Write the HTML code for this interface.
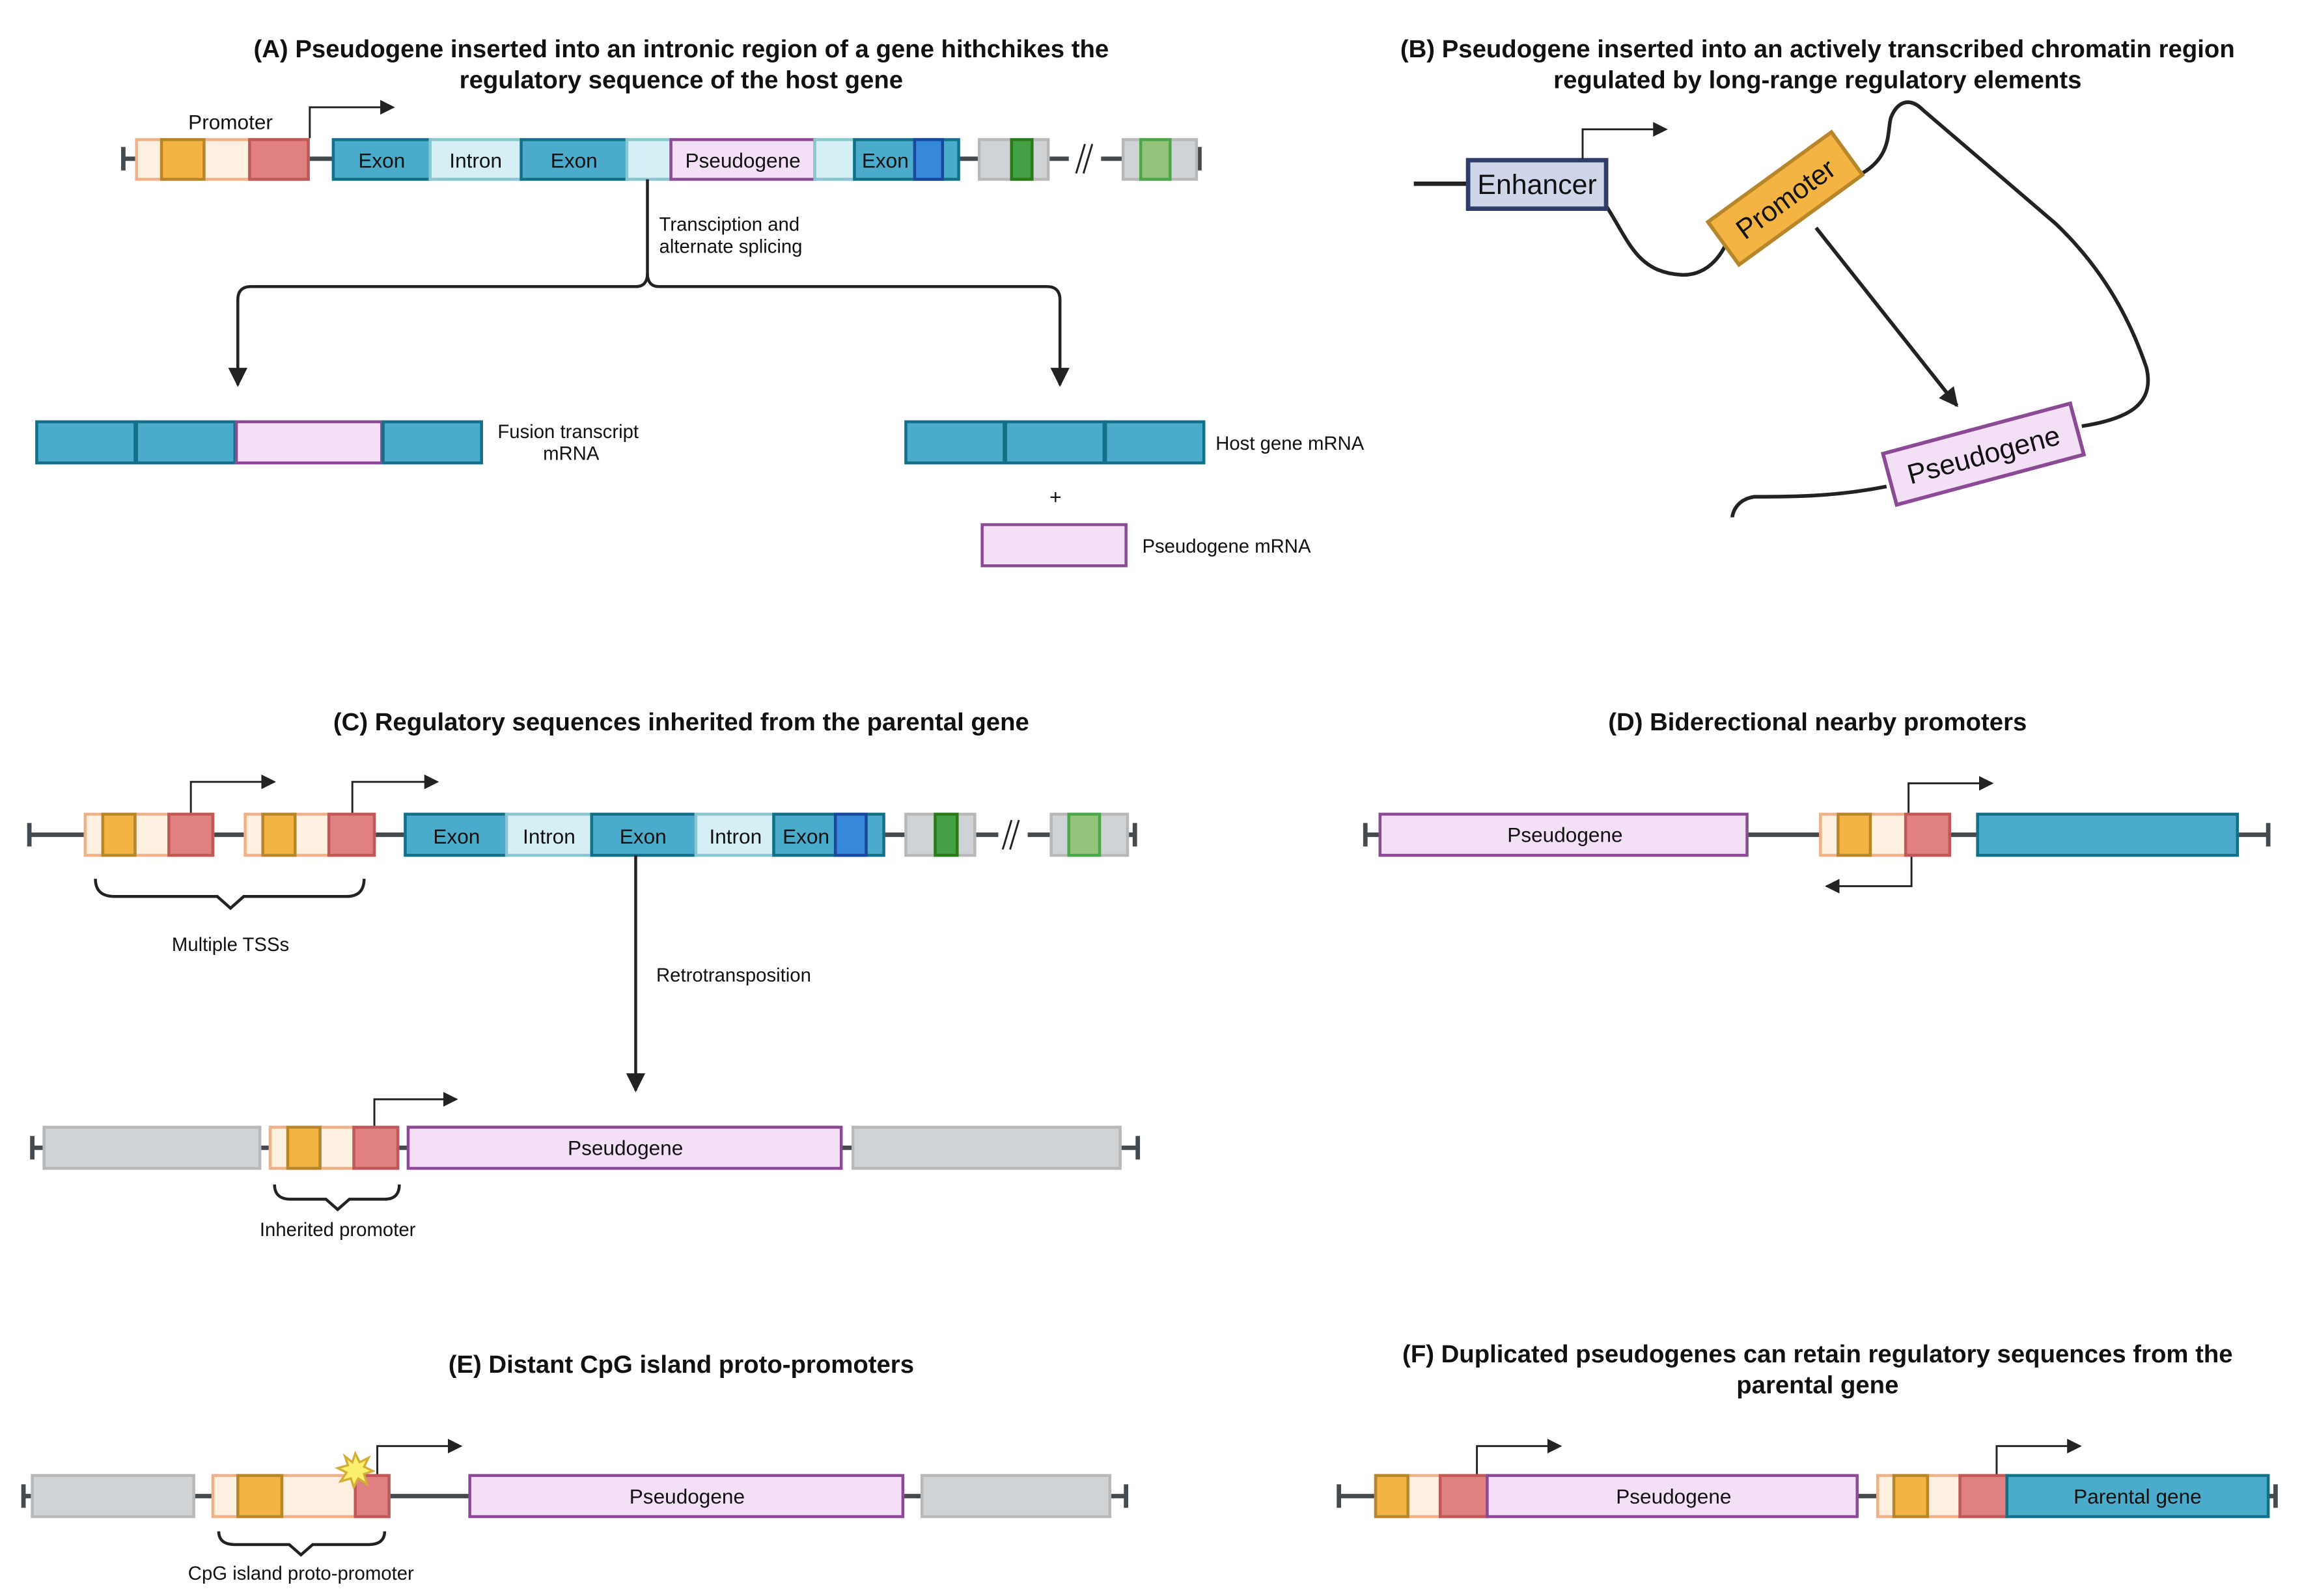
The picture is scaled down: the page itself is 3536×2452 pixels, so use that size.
<!DOCTYPE html>
<html><head><meta charset="utf-8"><style>html,body{margin:0;padding:0;background:#fff}svg{display:block}</style></head>
<body>
<svg width="3536" height="2452" viewBox="0 0 1568 1086" preserveAspectRatio="none" xmlns="http://www.w3.org/2000/svg" font-family="Liberation Sans, sans-serif">
<defs>
<marker id="ah" viewBox="0 0 10 10" refX="9" refY="5" markerWidth="10" markerHeight="10" markerUnits="userSpaceOnUse" orient="auto"><path d="M0,0 L10,5 L0,10 z" fill="#222"/></marker>
<marker id="ah2" viewBox="0 0 10 10" refX="9" refY="5" markerWidth="13" markerHeight="13" markerUnits="userSpaceOnUse" orient="auto"><path d="M0,0 L10,5 L0,10 z" fill="#222"/></marker>
</defs>
<style>
.t{font-weight:bold;font-size:17px;text-anchor:middle;fill:#111}
.l{font-size:13px;fill:#111}
.bx{font-size:14px;fill:#111;text-anchor:middle}
.ln{stroke:#454a4e;stroke-width:3;fill:none}
.pk{fill:#fdf0e0;stroke:#f0b088;stroke-width:2}
.or{fill:#f3b443;stroke:#b8862a;stroke-width:2}
.rd{fill:#e08080;stroke:#c05858;stroke-width:2}
.ex{fill:#4aabcb;stroke:#127088;stroke-width:2}
.in{fill:#d6eff4;stroke:#8ac6d0;stroke-width:2}
.ps{fill:#f3e0f7;stroke:#8c4a96;stroke-width:2}
.bl{fill:#3688d8;stroke:#1a48a0;stroke-width:2}
.gr{fill:#d0d3d6;stroke:#b8b8b8;stroke-width:2}
.gn{fill:#44a044;stroke:#2a7a1a;stroke-width:2}
.lg{fill:#94c47c;stroke:#4aa84a;stroke-width:2}
.ar{stroke:#222;stroke-width:1.3;fill:none}
.br{stroke:#222;stroke-width:2;fill:none}
</style>

<!-- Panel A -->
<text class="t" x="464" y="39">(A) Pseudogene inserted into an intronic region of a gene hithchikes the</text>
<text class="t" x="464" y="60">regulatory sequence of the host gene</text>
<line class="ln" x1="84" y1="108" x2="817" y2="108"/>
<line class="ln" x1="84" y1="100" x2="84" y2="116"/>
<line class="ln" x1="817" y1="100" x2="817" y2="116"/>
<rect class="pk" x="93" y="95" width="117" height="27"/>
<rect class="or" x="110" y="95" width="29" height="27"/>
<rect class="rd" x="170" y="95" width="40" height="27"/>
<text class="bx" x="157" y="88">Promoter</text>
<path class="ar" d="M211,94 V73 H268" marker-end="url(#ah)"/>
<rect class="ex" x="227" y="95" width="66" height="27"/>
<rect class="in" x="293" y="95" width="62" height="27"/>
<rect class="ex" x="355" y="95" width="72" height="27"/>
<rect class="in" x="427" y="95" width="30" height="27"/>
<rect class="ps" x="457" y="95" width="98" height="27"/>
<rect class="in" x="555" y="95" width="27" height="27"/>
<rect class="ex" x="582" y="95" width="71" height="27"/>
<rect class="bl" x="623" y="95" width="19" height="27"/>
<text class="bx" x="260" y="114">Exon</text>
<text class="bx" x="324" y="114">Intron</text>
<text class="bx" x="391" y="114">Exon</text>
<text class="bx" x="506" y="114">Pseudogene</text>
<text class="bx" x="603" y="114">Exon</text>
<rect class="gr" x="667" y="95" width="47" height="27"/>
<rect class="gn" x="689" y="95" width="14" height="27"/>
<rect fill="#fff" x="728" y="100" width="22" height="16"/>
<path d="M733,118 L739,98 M738,118 L744,98" stroke="#222" stroke-width="1.3"/>
<rect class="gr" x="765" y="95" width="50" height="27"/>
<rect class="lg" x="777" y="95" width="20" height="27"/>
<path class="br" d="M441,122 V186 Q441,195 433,195 H171 Q162,195 162,204 V262" marker-end="url(#ah2)"/>
<path class="br" d="M441,186 Q441,195 449,195 H713 Q722,195 722,204 V262" marker-end="url(#ah2)"/>
<text class="l" x="449" y="157">Transciption and</text>
<text class="l" x="449" y="172">alternate splicing</text>
<rect class="ex" x="25" y="287" width="67" height="28"/>
<rect class="ex" x="93" y="287" width="67" height="28"/>
<rect class="ps" x="161" y="287" width="99" height="28"/>
<rect class="ex" x="261" y="287" width="67" height="28"/>
<text class="l" x="387" y="298" text-anchor="middle">Fusion transcript</text>
<text class="l" x="389" y="313" text-anchor="middle">mRNA</text>
<rect class="ex" x="617" y="287" width="67" height="28"/>
<rect class="ex" x="685" y="287" width="67" height="28"/>
<rect class="ex" x="753" y="287" width="67" height="28"/>
<text class="l" x="828" y="306">Host gene mRNA</text>
<text class="bx" x="719" y="343">+</text>
<rect class="ps" x="669" y="357" width="98" height="28"/>
<text class="l" x="778" y="376">Pseudogene mRNA</text>

<!-- Panel B -->
<text class="t" x="1238" y="39">(B) Pseudogene inserted into an actively transcribed chromatin region</text>
<text class="t" x="1238" y="60">regulated by long-range regulatory elements</text>
<line x1="963" y1="125" x2="1000" y2="125" stroke="#222" stroke-width="3"/>
<path d="M1094,140 C1110,165 1115,185 1145,187 C1165,188 1175,170 1178,160" stroke="#222" stroke-width="2.5" fill="none"/>
<path d="M1260,122 C1290,110 1285,90 1288,80 C1292,70 1300,65 1310,75 L1400,152 C1440,190 1455,230 1462,250 C1468,275 1450,285 1418,290" stroke="#222" stroke-width="2.5" fill="none"/>
<path d="M1285,331 C1250,338 1220,338 1195,338 C1182,340 1180,350 1180,352" stroke="#222" stroke-width="2.5" fill="none"/>
<rect x="1000" y="109" width="94" height="33" fill="#cfd6ea" stroke="#2e3e68" stroke-width="3"/>
<text x="1047" y="132" font-size="19" text-anchor="middle" fill="#111">Enhancer</text>
<path class="ar" d="M1078,108 V88 H1135" marker-end="url(#ah)"/>
<g transform="translate(1216,135) rotate(-36)">
<rect x="-52" y="-18" width="104" height="36" fill="#f3b443" stroke="#b8862a" stroke-width="2.5"/>
<text x="0" y="7" font-size="19" text-anchor="middle" fill="#111">Promoter</text>
</g>
<g transform="translate(1351,309) rotate(-15)">
<rect x="-66" y="-18" width="132" height="36" fill="#f3e0f7" stroke="#8c4a96" stroke-width="2.5"/>
<text x="0" y="7" font-size="19" text-anchor="middle" fill="#111">Pseudogene</text>
</g>
<line x1="1237" y1="155" x2="1333" y2="276" stroke="#222" stroke-width="2.5" marker-end="url(#ah2)"/>

<!-- Panel C -->
<text class="t" x="464" y="497">(C) Regulatory sequences inherited from the parental gene</text>
<line class="ln" x1="20" y1="568" x2="773" y2="568"/>
<line class="ln" x1="20" y1="560" x2="20" y2="576"/>
<line class="ln" x1="773" y1="560" x2="773" y2="576"/>
<rect class="pk" x="58" y="554" width="87" height="28"/>
<rect class="or" x="70" y="554" width="22" height="28"/>
<rect class="rd" x="115" y="554" width="30" height="28"/>
<rect class="pk" x="167" y="554" width="88" height="28"/>
<rect class="or" x="179" y="554" width="22" height="28"/>
<rect class="rd" x="224" y="554" width="31" height="28"/>
<path class="ar" d="M130,553 V532 H187" marker-end="url(#ah)"/>
<path class="ar" d="M240,553 V532 H298" marker-end="url(#ah)"/>
<rect class="ex" x="276" y="554" width="69" height="28"/>
<rect class="in" x="345" y="554" width="58" height="28"/>
<rect class="ex" x="403" y="554" width="71" height="28"/>
<rect class="in" x="474" y="554" width="53" height="28"/>
<rect class="ex" x="527" y="554" width="75" height="28"/>
<rect class="bl" x="569" y="554" width="21" height="28"/>
<text class="bx" x="311" y="574">Exon</text>
<text class="bx" x="374" y="574">Intron</text>
<text class="bx" x="438" y="574">Exon</text>
<text class="bx" x="501" y="574">Intron</text>
<text class="bx" x="549" y="574">Exon</text>
<rect class="gr" x="617" y="554" width="47" height="28"/>
<rect class="gn" x="637" y="554" width="15" height="28"/>
<rect fill="#fff" x="680" y="560" width="20" height="16"/>
<path d="M683,578 L689,558 M688,578 L694,558" stroke="#222" stroke-width="1.3"/>
<rect class="gr" x="716" y="554" width="52" height="28"/>
<rect class="lg" x="728" y="554" width="21" height="28"/>
<path class="br" d="M65,598 Q65,610 78,610 H148 L157,618 L166,610 H236 Q248,610 248,598"/>
<text class="l" x="157" y="647" text-anchor="middle">Multiple TSSs</text>
<line x1="433" y1="582" x2="433" y2="742" stroke="#222" stroke-width="2" marker-end="url(#ah2)"/>
<text class="l" x="447" y="668">Retrotransposition</text>
<line class="ln" x1="22" y1="781" x2="775" y2="781"/>
<line class="ln" x1="22" y1="773" x2="22" y2="789"/>
<line class="ln" x1="775" y1="773" x2="775" y2="789"/>
<rect class="gr" x="30" y="767" width="147" height="28"/>
<rect class="pk" x="184" y="767" width="87" height="28"/>
<rect class="or" x="196" y="767" width="22" height="28"/>
<rect class="rd" x="241" y="767" width="30" height="28"/>
<rect class="ps" x="278" y="767" width="295" height="28"/>
<text class="bx" x="426" y="786">Pseudogene</text>
<rect class="gr" x="581" y="767" width="182" height="28"/>
<path class="ar" d="M255,766 V748 H311" marker-end="url(#ah)"/>
<path class="br" d="M187,806 Q187,816 198,816 H222 L230,823 L238,816 H262 Q272,816 272,806"/>
<text class="l" x="230" y="841" text-anchor="middle">Inherited  promoter</text>

<!-- Panel D -->
<text class="t" x="1238" y="497">(D) Biderectional nearby promoters</text>
<line class="ln" x1="930" y1="568" x2="1545" y2="568"/>
<line class="ln" x1="930" y1="560" x2="930" y2="576"/>
<line class="ln" x1="1545" y1="560" x2="1545" y2="576"/>
<rect class="ps" x="940" y="554" width="250" height="28"/>
<text class="bx" x="1066" y="573">Pseudogene</text>
<rect class="pk" x="1240" y="554" width="88" height="28"/>
<rect class="or" x="1252" y="554" width="22" height="28"/>
<rect class="rd" x="1298" y="554" width="30" height="28"/>
<rect class="ex" x="1347" y="554" width="177" height="28"/>
<path class="ar" d="M1300,553 V533 H1357" marker-end="url(#ah)"/>
<path class="ar" d="M1302,583 V603 H1244" marker-end="url(#ah)"/>

<!-- Panel E -->
<text class="t" x="464" y="934">(E) Distant CpG island proto-promoters</text>
<line class="ln" x1="16" y1="1018" x2="767" y2="1018"/>
<line class="ln" x1="16" y1="1010" x2="16" y2="1026"/>
<line class="ln" x1="767" y1="1010" x2="767" y2="1026"/>
<rect class="gr" x="22" y="1004" width="110" height="28"/>
<rect class="pk" x="145" y="1004" width="120" height="28"/>
<rect class="or" x="162" y="1004" width="30" height="28"/>
<rect class="rd" x="242" y="1004" width="23" height="28"/>
<rect class="ps" x="320" y="1004" width="295" height="28"/>
<text class="bx" x="468" y="1023">Pseudogene</text>
<rect class="gr" x="628" y="1004" width="128" height="28"/>
<path d="M242,989 L245,995 L251,992 L248,998 L254,1001 L248,1003 L250,1010 L244,1006 L241,1012 L239,1006 L232,1008 L236,1002 L230,999 L237,997 L235,991 L240,995 Z" fill="#fbf06e" stroke="#d4ad38" stroke-width="1.5"/>
<path class="ar" d="M257,1003 V984 H314" marker-end="url(#ah)"/>
<path class="br" d="M149,1042 Q149,1051 160,1051 H197 L205,1058 L213,1051 H251 Q262,1051 262,1042"/>
<text class="l" x="205" y="1075" text-anchor="middle">CpG island proto-promoter</text>

<!-- Panel F -->
<text class="t" x="1238" y="927">(F) Duplicated pseudogenes can retain regulatory sequences from the</text>
<text class="t" x="1238" y="948">parental gene</text>
<line class="ln" x1="912" y1="1018" x2="1550" y2="1018"/>
<line class="ln" x1="912" y1="1010" x2="912" y2="1026"/>
<line class="ln" x1="1550" y1="1010" x2="1550" y2="1026"/>
<rect class="pk" x="937" y="1004" width="76" height="28"/>
<rect class="or" x="937" y="1004" width="22" height="28"/>
<rect class="rd" x="981" y="1004" width="32" height="28"/>
<rect class="ps" x="1013" y="1004" width="252" height="28"/>
<text class="bx" x="1140" y="1023">Pseudogene</text>
<rect class="pk" x="1279" y="1004" width="88" height="28"/>
<rect class="or" x="1290" y="1004" width="23" height="28"/>
<rect class="rd" x="1335" y="1004" width="32" height="28"/>
<rect class="ex" x="1367" y="1004" width="178" height="28"/>
<text class="bx" x="1456" y="1023">Parental gene</text>
<path class="ar" d="M1006,1003 V984 H1063" marker-end="url(#ah)"/>
<path class="ar" d="M1360,1003 V984 H1417" marker-end="url(#ah)"/>
</svg>
</body></html>
